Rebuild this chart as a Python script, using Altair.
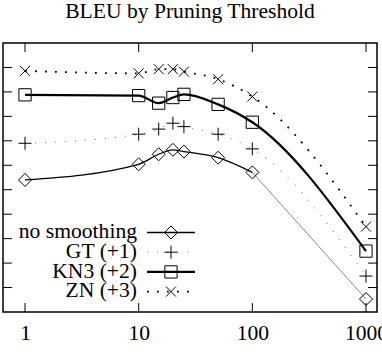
import altair as alt
import pandas as pd

# ---- data ----
thresholds = [1, 10, 15, 20, 25, 50, 100, 1000]
series_names = ["no smoothing", "GT (+1)", "KN3 (+2)", "ZN (+3)"]
offsets = [0, 1, 2, 3]
bleu_ns = [20.40, 21.04, 21.45, 21.63, 21.56, 21.31, 20.71, 15.53]
bleu_gt = [20.90, 21.27, 21.48, 21.72, 21.58, 21.27, 20.67, 15.47]
bleu_kn = [21.88, 21.85, 21.54, 21.77, 21.90, 21.49, 20.76, 15.49]
bleu_zn = [21.86, 21.76, 21.93, 21.93, 21.83, 21.52, 20.81, 15.49]
x_tick_values = [1, 10, 100, 1000]
y_tick_values = [16, 17, 18, 19, 20, 21, 22, 23, 24, 25]

all_bleu = [bleu_ns, bleu_gt, bleu_kn, bleu_zn]
rows = []
for name, off, vals in zip(series_names, offsets, all_bleu):
    for t, v in zip(thresholds, vals):
        rows.append({"threshold": t, "bleu": v, "series": name, "plotted": v + off})
df = pd.DataFrame(rows)

# ---- layout / style ----
W, H = 374, 269
FONT = "Liberation Serif"
FS = 21.6
TL = 9  # inward tick length

xscale = alt.Scale(type="log", domain=[0.64, 1250], nice=False)
yscale = alt.Scale(domain=[15, 26], nice=False, zero=False)
xaxis = alt.Axis(values=x_tick_values, format="d", labelFlush=False, ticks=False, tickSize=0,
                 domain=False, grid=False, labelFont=FONT, labelFontSize=FS, labelColor="black",
                 labelPadding=27, labelBaseline="alphabetic", labelOverlap=False, title=None)


def X(field):
    return alt.X(field, type="quantitative", scale=xscale, axis=xaxis)


def Y(field):
    return alt.Y(field, type="quantitative", scale=yscale, axis=None)


styles = {
    "no smoothing": dict(line=dict(color="black", strokeWidth=1.3),
                         shape="diamond", size=169),
    "GT (+1)": dict(line=dict(color="#8a8a8a", strokeWidth=1.1, strokeDash=[1.1, 8.9]),
                    shape="M-1,0L1,0M0,-1L0,1", size=169),
    "KN3 (+2)": dict(line=dict(color="black", strokeWidth=2.2),
                     shape="square", size=150),
    "ZN (+3)": dict(line=dict(color="black", strokeWidth=1.8, strokeDash=[1.8, 8.2]),
                    shape="M-1,-1L1,1M-1,1L1,-1", size=100),
}

base = alt.Chart(df)
layers = []

# inward ticks on all four sides
xt = pd.DataFrame({"v": x_tick_values})
yt = pd.DataFrame({"v": y_tick_values})
tick_kw = dict(color="black", strokeWidth=1)
layers.append(alt.Chart(xt).mark_rule(**tick_kw).encode(x=X("v"), y=alt.value(0), y2=alt.value(TL)))
layers.append(alt.Chart(xt).mark_rule(**tick_kw).encode(x=X("v"), y=alt.value(H - TL), y2=alt.value(H)))
layers.append(alt.Chart(yt).mark_rule(**tick_kw).encode(y=Y("v"), x=alt.value(0), x2=alt.value(TL)))
layers.append(alt.Chart(yt).mark_rule(**tick_kw).encode(y=Y("v"), x=alt.value(W - TL), x2=alt.value(W)))

# series lines
for name in series_names:
    st = styles[name]
    if name == "no smoothing":
        layers.append(base.transform_filter((alt.datum.series == name) & (alt.datum.threshold <= 100))
                      .mark_line(interpolate="monotone", **st["line"])
                      .encode(x=X("threshold"), y=Y("plotted")))
        layers.append(base.transform_filter((alt.datum.series == name) & (alt.datum.threshold >= 100))
                      .mark_line(color="#888888", strokeWidth=1)
                      .encode(x=X("threshold"), y=Y("plotted")))
    else:
        layers.append(base.transform_filter(alt.datum.series == name)
                      .mark_line(interpolate="monotone", **st["line"])
                      .encode(x=X("threshold"), y=Y("plotted")))

# series markers
for name in series_names:
    st = styles[name]
    layers.append(base.transform_filter(alt.datum.series == name)
                  .mark_point(shape=st["shape"], size=st["size"], filled=False, color="black",
                              strokeWidth=1, opacity=1)
                  .encode(x=X("threshold"), y=Y("plotted")))

# legend (inside plot, bottom-left)
leg_line_y = [189.5, 209.2, 228.9, 248.6]
for i, name in enumerate(series_names):
    st = styles[name]
    ly = leg_line_y[i]
    d = alt.Data(values=[{"label": name}])
    layers.append(alt.Chart(d).mark_text(align="right", baseline="alphabetic", font=FONT,
                                         fontSize=FS, color="black")
                  .encode(x=alt.value(134), y=alt.value(ly + 5.8), text="label:N"))
    layers.append(alt.Chart(d).mark_rule(**st["line"])
                  .encode(x=alt.value(144), x2=alt.value(192), y=alt.value(ly)))
    layers.append(alt.Chart(d).mark_point(shape=st["shape"], size=st["size"], filled=False,
                                          color="black", strokeWidth=1, opacity=1)
                  .encode(x=alt.value(168), y=alt.value(ly)))

chart = (
    alt.layer(*layers)
    .properties(
        width=W, height=H,
        title=alt.TitleParams("BLEU by Pruning Threshold", font=FONT, fontSize=FS,
                              fontWeight="normal", color="black", anchor="middle",
                              baseline="alphabetic", offset=2.5),
        autosize=alt.AutoSizeParams(type="none"),
        padding={"left": 3, "top": 43, "right": 5, "bottom": 40},
        background="white",
    )
    .configure_view(stroke="black", strokeWidth=1.5)
)

chart.save("out.html", embed_options={"renderer": "svg", "actions": False})
